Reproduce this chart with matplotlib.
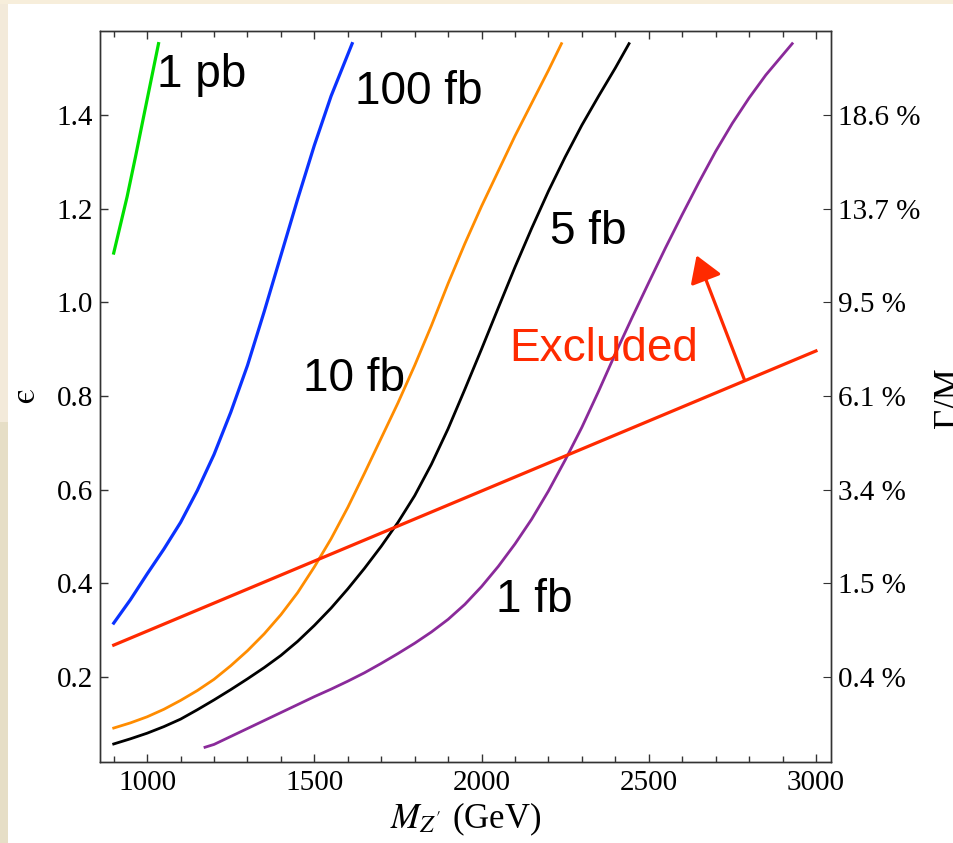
import matplotlib
matplotlib.use("Agg")
import matplotlib.pyplot as plt
from matplotlib.patches import Rectangle
from matplotlib.ticker import MultipleLocator

# values: Z' mass (GeV) vs epsilon
m_1pb = [900, 920, 940, 965, 990, 1012, 1034]
eps_1pb = [1.105, 1.165, 1.225, 1.31, 1.398, 1.475, 1.552]

m_100fb = [900, 950, 1000, 1050, 1100, 1150, 1200, 1250, 1300, 1350, 1400, 1450, 1500, 1550, 1613]
eps_100fb = [0.315, 0.365, 0.42, 0.473, 0.53, 0.598, 0.675, 0.765, 0.865, 0.98, 1.10, 1.22,
             1.335, 1.44, 1.552]

m_10fb = [900, 950, 1000, 1050, 1100, 1150, 1200, 1250, 1300, 1350, 1400, 1450, 1500, 1550,
          1600, 1650, 1700, 1750, 1800, 1850, 1900, 1950, 2000, 2050, 2100, 2150, 2200, 2239]
eps_10fb = [0.091, 0.102, 0.115, 0.131, 0.15, 0.171, 0.195, 0.224, 0.256, 0.292, 0.333, 0.38,
            0.435, 0.495, 0.562, 0.635, 0.71, 0.785, 0.865, 0.95, 1.04, 1.125, 1.205, 1.28,
            1.355, 1.425, 1.495, 1.552]

m_5fb = [900, 950, 1000, 1050, 1100, 1150, 1200, 1250, 1300, 1350, 1400, 1450, 1500, 1550,
         1600, 1650, 1700, 1750, 1800, 1850, 1900, 1950, 2000, 2050, 2100, 2150, 2200, 2250,
         2300, 2350, 2400, 2441]
eps_5fb = [0.057, 0.068, 0.080, 0.094, 0.11, 0.13, 0.151, 0.173, 0.196, 0.22, 0.246, 0.276,
           0.31, 0.347, 0.388, 0.432, 0.479, 0.53, 0.587, 0.654, 0.73, 0.814, 0.9, 0.988,
           1.075, 1.158, 1.237, 1.31, 1.378, 1.44, 1.5, 1.552]

m_1fb = [1173, 1200, 1250, 1300, 1350, 1400, 1450, 1500, 1550, 1600, 1650, 1700, 1750, 1800,
         1850, 1900, 1950, 2000, 2050, 2100, 2150, 2200, 2250, 2300, 2350, 2400, 2450, 2500,
         2550, 2600, 2650, 2700, 2750, 2800, 2850, 2929]
eps_1fb = [0.05, 0.056, 0.073, 0.09, 0.107, 0.124, 0.141, 0.158, 0.174, 0.191, 0.209, 0.229,
           0.25, 0.272, 0.296, 0.323, 0.355, 0.393, 0.436, 0.484, 0.537, 0.597, 0.663, 0.733,
           0.81, 0.89, 0.967, 1.042, 1.116, 1.187, 1.256, 1.322, 1.382, 1.436, 1.485, 1.552]

m_excl = [900, 3000]
eps_excl = [0.268, 0.896]

# right axis: Gamma/M at the epsilon ticks
eps_ticks = [0.2, 0.4, 0.6, 0.8, 1.0, 1.2, 1.4]
width_labels = ["0.4 %", "1.5 %", "3.4 %", "6.1 %", "9.5 %", "13.7 %", "18.6 %"]

red = "#ff2a00"

plt.rcParams["font.family"] = ["Liberation Serif", "DejaVu Serif"]
plt.rcParams["mathtext.fontset"] = "stix"

fig = plt.figure(figsize=(9.54, 8.43), dpi=100)
fig.patch.set_facecolor("white")
# slide background strips
fig.patches.append(Rectangle((0, 0), 8 / 954, 0.5, transform=fig.transFigure,
                             facecolor="#e6dec6", edgecolor="none", zorder=0))
fig.patches.append(Rectangle((0, 0.5), 8 / 954, 0.5, transform=fig.transFigure,
                             facecolor="#f3eada", edgecolor="none", zorder=0))
fig.patches.append(Rectangle((0, 1 - 4 / 843), 1, 4 / 843, transform=fig.transFigure,
                             facecolor="#f7eedb", edgecolor="none", zorder=0))

ax = fig.add_axes([100 / 954, 81 / 843, 731 / 954, 731 / 843])

ax.plot(m_1pb, eps_1pb, color="#00e000", lw=2.3)
ax.plot(m_100fb, eps_100fb, color="#0a32ff", lw=2.3)
ax.plot(m_10fb, eps_10fb, color="#ff8c00", lw=2.0)
ax.plot(m_5fb, eps_5fb, color="black", lw=2.0)
ax.plot(m_1fb, eps_1fb, color="#8a2a9a", lw=2.0)
ax.plot(m_excl, eps_excl, color=red, lw=2.3)

ax.annotate("", xy=(2643, 1.10), xytext=(2787, 0.833),
            arrowprops=dict(arrowstyle="-|>,head_length=0.8,head_width=0.5",
                            color=red, lw=2.3, mutation_scale=20,
                            shrinkA=0, shrinkB=0))

lab = dict(family=["Liberation Sans", "DejaVu Sans"], fontsize=33, ha="left", va="baseline")
ax.text(1030, 1.46, "1 pb", **lab)
ax.text(1622, 1.423, "100 fb", **lab)
ax.text(1466, 0.811, "10 fb", **lab)
ax.text(2205, 1.125, "5 fb", **lab)
ax.text(2043, 0.339, "1 fb", **lab)
ax.text(2082, 0.875, "Excluded", color=red, **lab)

ax.set_xlim(859, 3045)
ax.set_ylim(0.0185, 1.579)
ax.xaxis.set_major_locator(MultipleLocator(500))
ax.xaxis.set_minor_locator(MultipleLocator(100))
ax.set_yticks(eps_ticks)
ax.set_yticklabels([f"{v:.1f}" for v in eps_ticks])
ax.tick_params(which="both", direction="in", top=True, right=False, labelsize=21,
               color="#333333", width=1.0)
ax.tick_params(which="major", length=6, pad=5)
ax.tick_params(which="minor", length=4)
ax.tick_params(axis="x", pad=6)

ax2 = ax.twinx()
ax2.set_ylim(ax.get_ylim())
ax2.set_yticks(eps_ticks)
ax2.set_yticklabels(width_labels)
ax2.tick_params(direction="in", length=6, labelsize=21, pad=5, color="#333333")

for a in (ax, ax2):
    for s in a.spines.values():
        s.set_color("#333333")
        s.set_linewidth(1.0)

ax.set_xlabel(r"$M_{Z'}$ (GeV)", fontsize=25, labelpad=3)
fig.text(26 / 954, 1 - 395 / 843, "\u03f5", family=["STIXGeneral", "DejaVu Serif"],
         fontsize=25, rotation=90, ha="center", va="center")
fig.text(933 / 954, 1 - 398 / 843, "\u0393/M", fontsize=25, rotation=90,
         ha="left", va="center")

fig.savefig("out.png", dpi=100)
